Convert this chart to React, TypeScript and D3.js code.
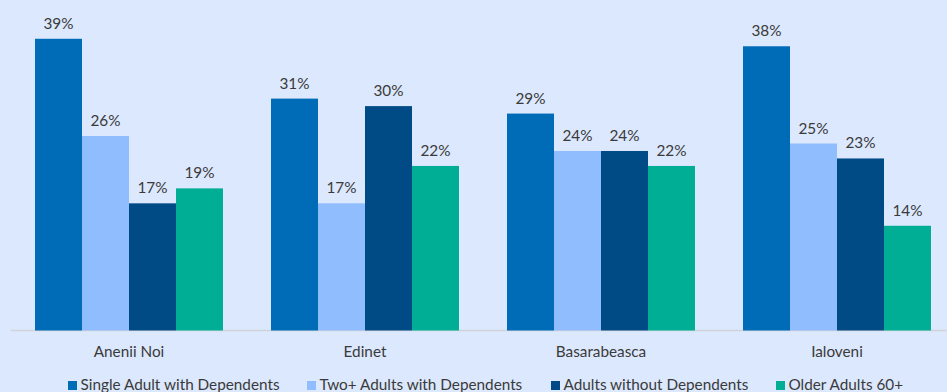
import React from "react";
import * as d3 from "d3";

const categories = ["Anenii Noi", "Edinet", "Basarabeasca", "Ialoveni"];
const seriesNames = [
  "Single Adult with Dependents",
  "Two+ Adults with Dependents",
  "Adults without Dependents",
  "Older Adults 60+",
];
const singleAdult = [39, 31, 29, 38];
const twoPlusAdults = [26, 17, 24, 25];
const adultsNoDeps = [17, 30, 24, 23];
const olderAdults = [19, 22, 22, 14];
const seriesValues = [singleAdult, twoPlusAdults, adultsNoDeps, olderAdults];
const colors = ["#006bb6", "#8fbdfd", "#004b86", "#00ae95"];

const W = 947;
const H = 392;
const FONT = "Lato, 'Open Sans', sans-serif";
const FS = 15.3;

export default function App() {
  const x0 = d3.scaleBand<string>().domain(categories).range([11, 955]).paddingInner(0).paddingOuter(0);
  const groupPad = 24;
  const x1 = d3
    .scaleBand<number>()
    .domain(d3.range(seriesNames.length))
    .range([groupPad, x0.bandwidth() - groupPad])
    .padding(0);
  const y = d3.scaleLinear().domain([0, 40]).range([330.5, 31.3]);

  const legendX = [68, 307, 551, 776];

  return (
    <svg
      width={W}
      height={H}
      style={{ position: "absolute", left: 0, top: 0, display: "block" }}
      fontFamily={FONT}
    >
      <rect x={0} y={0} width={W} height={H} fill="#dce8fd" />
      <line x1={11} x2={W} y1={330.5} y2={330.5} stroke="#cfd3da" strokeWidth={1.5} />
      {categories.map((c, ci) => (
        <g key={c} transform={`translate(${x0(c)},0)`}>
          {seriesValues.map((vals, si) => {
            const v = vals[ci];
            const bx = x1(si)!;
            const bw = x1.bandwidth();
            return (
              <g key={si}>
                <rect x={bx} y={y(v)} width={bw} height={y(0) - y(v)} fill={colors[si]} />
                <text
                  x={bx + bw / 2}
                  y={y(v) - 10}
                  textAnchor="middle"
                  fontSize={FS}
                  fill="#3a3a3a"
                >
                  {`${v}%`}
                </text>
              </g>
            );
          })}
          <text
            x={x0.bandwidth() / 2}
            y={357}
            textAnchor="middle"
            fontSize={FS}
            fill="#3a3a3a"
          >
            {c}
          </text>
        </g>
      ))}
      {seriesNames.map((s, i) => (
        <g key={s} transform={`translate(${legendX[i]},0)`}>
          <rect x={0} y={381} width={9} height={9} fill={colors[i]} />
          <text x={12.5} y={390} fontSize={FS} fill="#3a3a3a">
            {s}
          </text>
        </g>
      ))}
    </svg>
  );
}
